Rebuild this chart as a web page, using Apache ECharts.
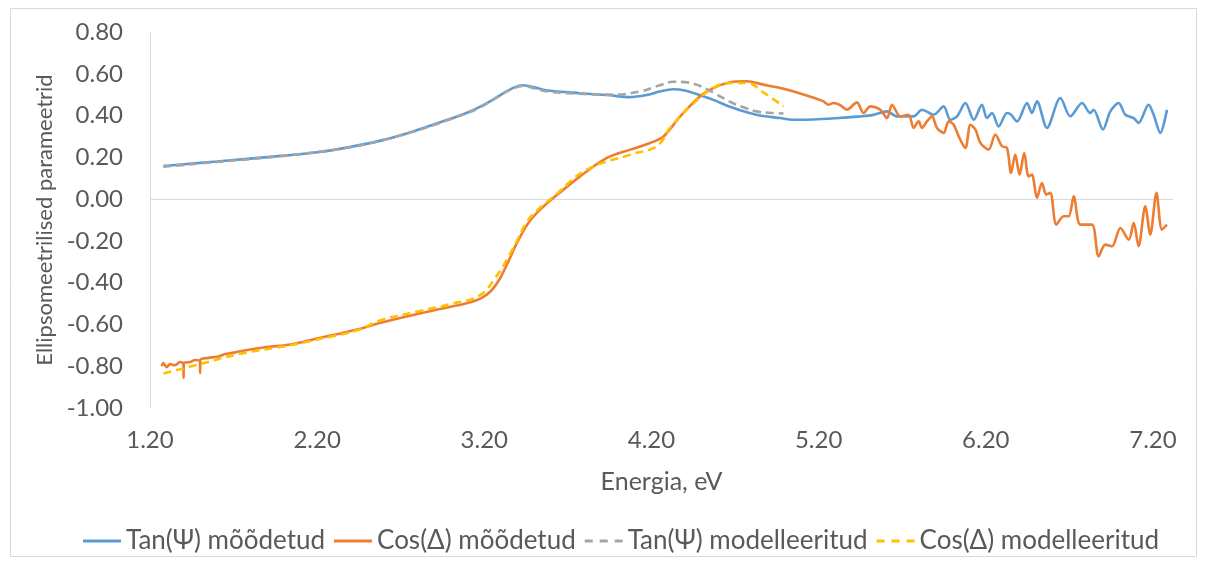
<!DOCTYPE html>
<html>
<head>
<meta charset="utf-8">
<script src="https://cdn.jsdelivr.net/npm/echarts@6/dist/echarts.min.js"></script>
<style>
  html, body { margin: 0; padding: 0; background: #ffffff; }
  #chart { width: 1206px; height: 563px; }
</style>
</head>
<body>
<div id="chart"></div>
<script>
// Series names (legend order)
const seriesNames = ['Tan(\u03A8) m\u00F5\u00F5detud', 'Cos(\u0394) m\u00F5\u00F5detud', 'Tan(\u03A8) modelleeritud', 'Cos(\u0394) modelleeritud'];

// Tan(Psi), measured
const tanMeasX = [1.28, 1.35, 1.45, 1.60, 1.80, 2.00, 2.20, 2.40, 2.58, 2.77, 2.98, 3.10, 3.17, 3.25, 3.32, 3.38, 3.43, 3.50, 3.58, 3.77, 3.95, 4.07, 4.17, 4.25, 4.33, 4.40, 4.47, 4.57, 4.67, 4.76, 4.85, 4.97, 5.05, 5.17, 5.30, 5.449, 5.52, 5.609, 5.668, 5.768, 5.818, 5.888, 5.948, 5.988, 6.028, 6.078, 6.128, 6.177, 6.207, 6.237, 6.277, 6.327, 6.35, 6.387, 6.447, 6.476, 6.506, 6.566, 6.646, 6.706, 6.776, 6.825, 6.845, 6.901, 6.945, 6.995, 7.035, 7.085, 7.114, 7.174, 7.204, 7.244, 7.284];
const tanMeasY = [0.158, 0.163, 0.170, 0.180, 0.194, 0.208, 0.224, 0.250, 0.280, 0.323, 0.380, 0.415, 0.440, 0.475, 0.510, 0.535, 0.545, 0.535, 0.520, 0.507, 0.497, 0.488, 0.498, 0.515, 0.526, 0.520, 0.503, 0.475, 0.442, 0.418, 0.400, 0.388, 0.380, 0.381, 0.387, 0.396, 0.402, 0.420, 0.396, 0.396, 0.428, 0.404, 0.444, 0.380, 0.396, 0.460, 0.380, 0.452, 0.388, 0.412, 0.348, 0.412, 0.405, 0.372, 0.460, 0.412, 0.468, 0.341, 0.484, 0.396, 0.460, 0.412, 0.428, 0.333, 0.420, 0.460, 0.404, 0.388, 0.365, 0.452, 0.404, 0.317, 0.428];

// Cos(Delta), measured
const cosMeasX = [1.27, 1.28, 1.30, 1.32, 1.35, 1.38, 1.40, 1.401, 1.402, 1.44, 1.47, 1.499, 1.500, 1.501, 1.55, 1.60, 1.65, 1.70, 1.74, 1.80, 1.90, 2.04, 2.20, 2.44, 2.58, 2.80, 3.00, 3.10, 3.18, 3.24, 3.29, 3.34, 3.395, 3.454, 3.514, 3.614, 3.773, 3.933, 4.073, 4.192, 4.272, 4.372, 4.491, 4.571, 4.671, 4.771, 4.870, 4.970, 5.090, 5.170, 5.229, 5.259, 5.289, 5.329, 5.369, 5.429, 5.469, 5.509, 5.569, 5.609, 5.639, 5.688, 5.738, 5.768, 5.798, 5.818, 5.848, 5.878, 5.908, 5.948, 5.978, 6.008, 6.038, 6.078, 6.108, 6.138, 6.168, 6.217, 6.257, 6.297, 6.327, 6.351, 6.376, 6.402, 6.430, 6.456, 6.476, 6.506, 6.536, 6.562, 6.586, 6.622, 6.666, 6.696, 6.726, 6.766, 6.835, 6.875, 6.915, 6.955, 7.005, 7.055, 7.085, 7.114, 7.154, 7.184, 7.221, 7.254, 7.284];
const cosMeasY = [-0.800, -0.785, -0.805, -0.790, -0.795, -0.780, -0.790, -0.856, -0.785, -0.780, -0.770, -0.775, -0.832, -0.770, -0.760, -0.755, -0.742, -0.735, -0.728, -0.720, -0.708, -0.696, -0.667, -0.624, -0.592, -0.550, -0.515, -0.497, -0.475, -0.440, -0.385, -0.305, -0.210, -0.125, -0.066, 0.006, 0.109, 0.197, 0.237, 0.269, 0.300, 0.396, 0.492, 0.532, 0.559, 0.564, 0.548, 0.532, 0.506, 0.485, 0.468, 0.452, 0.460, 0.450, 0.428, 0.463, 0.412, 0.444, 0.428, 0.388, 0.452, 0.396, 0.404, 0.341, 0.372, 0.341, 0.372, 0.396, 0.341, 0.317, 0.372, 0.356, 0.300, 0.245, 0.356, 0.333, 0.269, 0.237, 0.309, 0.253, 0.245, 0.125, 0.213, 0.117, 0.221, 0.109, 0.117, 0.006, 0.077, 0.022, 0.030, -0.122, -0.082, -0.082, 0.013, -0.122, -0.122, -0.274, -0.218, -0.226, -0.138, -0.194, -0.114, -0.226, -0.034, -0.170, 0.030, -0.146, -0.122];

// Tan(Psi), modelled
const tanModX = [1.28, 1.60, 2.00, 2.40, 2.58, 2.77, 2.98, 3.17, 3.30, 3.38, 3.43, 3.50, 3.58, 3.80, 3.97, 4.13, 4.25, 4.33, 4.40, 4.47, 4.57, 4.67, 4.75, 4.83, 4.92, 4.99];
const tanModY = [0.155, 0.178, 0.207, 0.248, 0.280, 0.322, 0.378, 0.437, 0.500, 0.532, 0.542, 0.530, 0.515, 0.503, 0.500, 0.515, 0.545, 0.562, 0.560, 0.548, 0.510, 0.466, 0.440, 0.420, 0.412, 0.410];

// Cos(Delta), modelled
const cosModX = [1.28, 1.50, 1.74, 2.04, 2.20, 2.44, 2.58, 2.80, 3.00, 3.175, 3.27, 3.335, 3.395, 3.454, 3.514, 3.614, 3.813, 4.073, 4.232, 4.312, 4.432, 4.571, 4.671, 4.771, 4.870, 4.990];
const cosModY = [-0.835, -0.790, -0.740, -0.700, -0.672, -0.628, -0.580, -0.538, -0.502, -0.460, -0.372, -0.290, -0.200, -0.110, -0.055, 0.012, 0.141, 0.213, 0.253, 0.341, 0.444, 0.533, 0.556, 0.556, 0.510, 0.444];

// Axis settings
const xMin = 1.2, xMax = 7.32, xStep = 1;
const yMin = -1.0, yMax = 0.8, yStep = 0.2;

const zip = (xs, ys) => xs.map((x, i) => [x, ys[i]]);
const fmt2 = v => (Math.abs(v) < 1e-9 ? 0 : v).toFixed(2);

const FONT = 'Lato, "Open Sans", sans-serif';
const TEXT = '#595959';
const colors = ['#5B9BD5', '#ED7D31', '#A5A5A5', '#FFC000'];

// Legend keys: a solid stroke and a three-dash stroke
const solidKey = 'path://M0,0H38V3H0Z';
const dashKey = 'path://M0,0H8V3H0Z M15,0H23V3H15Z M30,0H38V3H30Z';

const chart = echarts.init(document.getElementById('chart'), null, { renderer: 'canvas' });

chart.setOption({
  animation: false,
  backgroundColor: '#ffffff',
  color: colors,
  textStyle: { fontFamily: FONT, color: TEXT },
  graphic: [{
    type: 'rect',
    shape: { x: 10.5, y: 8.5, width: 1186, height: 548 },
    style: { fill: 'none', stroke: '#d9d9d9', lineWidth: 1 },
    silent: true
  }],
  grid: { left: 150, right: 33, top: 32, bottom: 155, containLabel: false },
  legend: {
    left: 78,
    top: 523,
    itemWidth: 38,
    itemHeight: 3,
    itemGap: 9,
    symbolKeepAspect: false,
    textStyle: { fontFamily: FONT, fontSize: 26, color: TEXT },
    data: [
      { name: seriesNames[0], icon: solidKey },
      { name: seriesNames[1], icon: solidKey },
      { name: seriesNames[2], icon: dashKey },
      { name: seriesNames[3], icon: dashKey }
    ]
  },
  xAxis: {
    type: 'value',
    min: xMin,
    max: xMax,
    interval: xStep,
    name: 'Energia, eV',
    nameLocation: 'middle',
    nameGap: 61,
    nameTextStyle: { fontFamily: FONT, fontSize: 25, color: TEXT },
    axisLine: { show: false, onZero: false },
    axisTick: { show: false },
    splitLine: { show: false },
    axisLabel: {
      fontFamily: FONT, fontSize: 24, color: TEXT, margin: 20,
      showMaxLabel: false,
      formatter: fmt2
    }
  },
  yAxis: {
    type: 'value',
    min: yMin,
    max: yMax,
    interval: yStep,
    name: 'Ellipsomeetrilised parameetrid',
    nameLocation: 'middle',
    nameGap: 92,
    nameTextStyle: { fontFamily: FONT, fontSize: 22, color: TEXT },
    axisLine: { show: true, lineStyle: { color: '#d9d9d9', width: 1 } },
    axisTick: { show: false },
    splitLine: { show: false },
    axisLabel: {
      fontFamily: FONT, fontSize: 24, color: TEXT, margin: 27,
      formatter: fmt2
    }
  },
  series: [
    {
      name: seriesNames[0], type: 'line', data: zip(tanMeasX, tanMeasY),
      showSymbol: false, symbol: 'none', smooth: 0.3, z: 2,
      lineStyle: { width: 2.6, color: colors[0] },
      markLine: {
        silent: true, symbol: ['none', 'none'], label: { show: false },
        lineStyle: { color: '#d9d9d9', width: 1, type: 'solid' },
        data: [{ yAxis: 0 }], z: 1
      }
    },
    {
      name: seriesNames[1], type: 'line', data: zip(cosMeasX, cosMeasY),
      showSymbol: false, symbol: 'none', smooth: 0.3, z: 3,
      lineStyle: { width: 2.6, color: colors[1] }
    },
    {
      name: seriesNames[2], type: 'line', data: zip(tanModX, tanModY),
      showSymbol: false, symbol: 'none', smooth: 0.4, z: 4,
      lineStyle: { width: 2.6, color: colors[2], type: [8, 5] }
    },
    {
      name: seriesNames[3], type: 'line', data: zip(cosModX, cosModY),
      showSymbol: false, symbol: 'none', smooth: 0.4, z: 5,
      lineStyle: { width: 2.6, color: colors[3], type: [8, 5] }
    }
  ]
});
</script>
</body>
</html>
